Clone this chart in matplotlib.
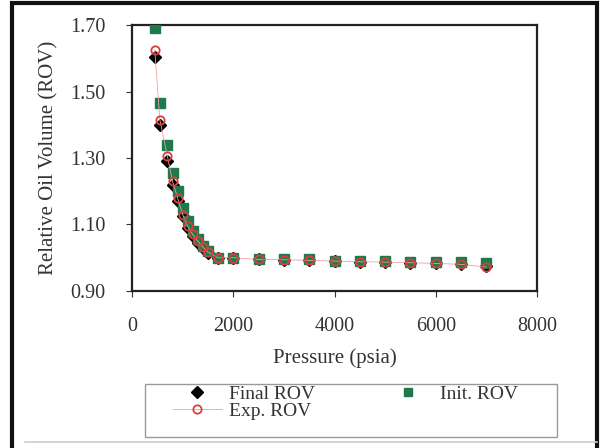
import matplotlib

matplotlib.use("Agg")
import matplotlib.pyplot as plt
from matplotlib.lines import Line2D
from matplotlib.patches import Rectangle

pressure = [450, 550, 700, 800, 900, 1000, 1100, 1200, 1300, 1400, 1500, 1700,
            2000, 2500, 3000, 3500, 4000, 4500, 5000, 5500, 6000, 6500, 7000]
init_rov = [1.69, 1.465, 1.34, 1.255, 1.20, 1.15, 1.11, 1.08, 1.055, 1.035, 1.02, 1.00,
            1.00, 0.997, 0.995, 0.995, 0.99, 0.99, 0.99, 0.988, 0.987, 0.986, 0.985]
final_rov = [1.605, 1.40, 1.29, 1.22, 1.17, 1.125, 1.09, 1.065, 1.045, 1.03, 1.015, 1.00,
             1.00, 0.995, 0.993, 0.992, 0.99, 0.988, 0.987, 0.985, 0.983, 0.981, 0.975]
exp_rov = [1.625, 1.415, 1.305, 1.23, 1.18, 1.13, 1.095, 1.07, 1.05, 1.032, 1.017, 1.00,
           1.00, 0.995, 0.994, 0.992, 0.99, 0.988, 0.987, 0.985, 0.983, 0.98, 0.972]

x_ticks = [0, 2000, 4000, 6000, 8000]
y_ticks = [0.90, 1.10, 1.30, 1.50, 1.70]

GREEN = "#1E7A4C"
RED = "#D9403A"
TEXT = "#333333"
SERIF = "Liberation Serif"

plt.rcParams.update(
    {
        "font.family": SERIF,
        "font.size": 14,
        "text.color": TEXT,
        "xtick.color": TEXT,
        "ytick.color": TEXT,
        "axes.labelcolor": TEXT,
    }
)

fig = plt.figure(figsize=(6.0, 4.48), dpi=100, facecolor="white")
ax = fig.add_axes([132 / 600, 1 - 291 / 448, (537 - 132) / 600, (291 - 25) / 448])

ax.plot(pressure, final_rov, linestyle="none", marker="D", markersize=6,
        color="black", label="Final ROV", zorder=3)
ax.plot(pressure, init_rov, linestyle="none", marker="s", markersize=7,
        color=GREEN, label="Init. ROV", zorder=3)
ax.plot(pressure, exp_rov, linestyle="-", linewidth=0.6, color="#F0A0A0",
        marker="o", markersize=6, markerfacecolor="none", markeredgecolor=RED,
        markeredgewidth=1.3, label="Exp. ROV", zorder=4)

ax.set_xlim(0, 8000)
ax.set_ylim(0.90, 1.70)
ax.set_xticks(x_ticks)
ax.set_yticks(y_ticks)
ax.set_yticklabels([f"{v:.2f}" for v in y_ticks])
ax.tick_params(direction="out", length=4, width=0.8, labelsize=14.5, pad=15)
for spine in ax.spines.values():
    spine.set_linewidth(1.6)
    spine.set_color("#222222")

ax.set_xlabel("Pressure (psia)", fontsize=15, family=SERIF, va="center")
ax.set_ylabel("Relative Oil Volume (ROV)", fontsize=15, family=SERIF, va="center")
ax.xaxis.set_label_coords(0.5, -(358 - 291) / 266, transform=ax.transAxes)
ax.yaxis.set_label_coords(-(132 - 49) / 405, 0.5, transform=ax.transAxes)

handles = [
    Line2D([], [], linestyle="none", marker="D", markersize=6, color="black"),
    Line2D([], [], linestyle="-", linewidth=0.6, color="#F0A0A0", marker="o",
           markersize=6, markerfacecolor="none", markeredgecolor=RED, markeredgewidth=1.3),
    Line2D([], [], linestyle="none", marker="s", markersize=6, color=GREEN),
]
labels = ["Final ROV", "Exp. ROV", "Init. ROV"]
fig.legend(
    handles, labels, ncol=2, loc="upper left",
    bbox_to_anchor=(173 / 600, 1 - 385 / 448),
    frameon=False, prop={"family": SERIF, "size": 14},
    handlelength=2.5, labelspacing=0.0, borderaxespad=0, borderpad=0.0,
    columnspacing=3.5, handletextpad=0.4,
)
fig.add_artist(Rectangle((145 / 600, 1 - 437 / 448), (557 - 145) / 600, 53 / 448,
                         transform=fig.transFigure, fill=False, edgecolor="#999999",
                         linewidth=1.0))

# outer frame of the original figure
fig.add_artist(Rectangle((12 / 600, -0.02), (597 - 12) / 600, 1 - 3.5 / 448 + 0.02,
                         transform=fig.transFigure, fill=False, edgecolor="#111111",
                         linewidth=3))
fig.add_artist(Line2D([25 / 600, 597 / 600], [1 - 442 / 448] * 2,
                      transform=fig.transFigure, color="#CCCCCC", linewidth=1.2))

fig.savefig("out.png", dpi=100, facecolor="white")
